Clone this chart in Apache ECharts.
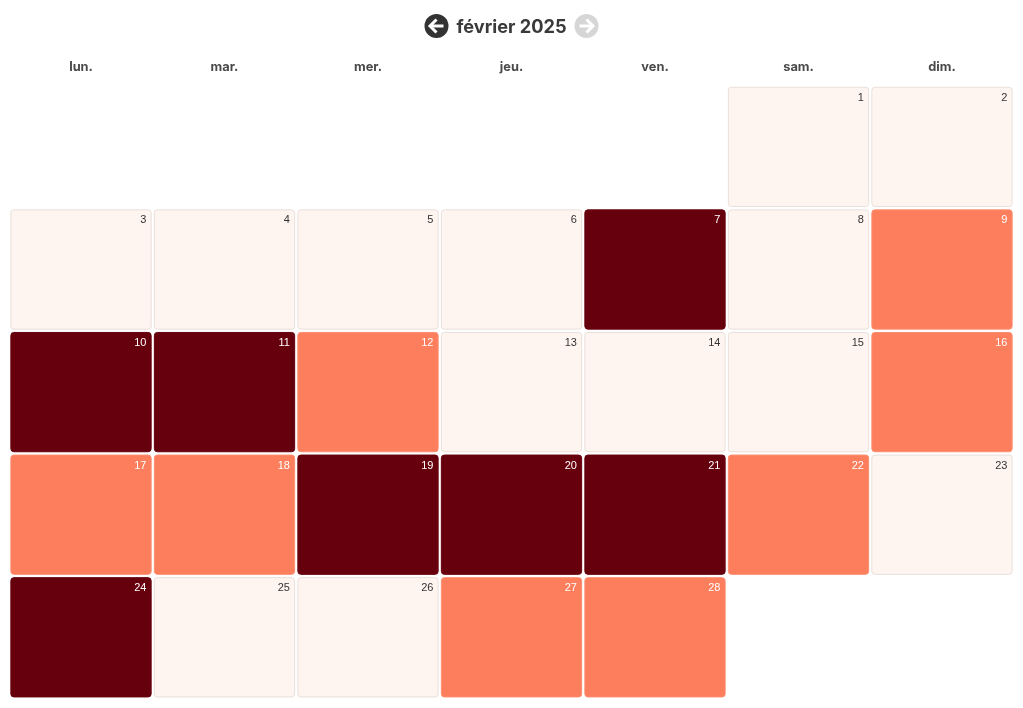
<!DOCTYPE html>
<html><head><meta charset="utf-8">
<style>html,body{margin:0;padding:0;background:#fff}#c{width:1023px;height:708px}</style>
<script src="https://cdn.jsdelivr.net/npm/echarts@6/dist/echarts.min.js"></script>
</head><body><div id="c"></div>
<script>
const monthTitle = "février 2025";
const weekdays = ["lun.","mar.","mer.","jeu.","ven.","sam.","dim."];
const weeks = ["S1","S2","S3","S4","S5"];
const firstColumn = 5;
// Intensity per day of the month, 1 to 28 (0 light, 1 orange, 2 dark)
const dayLevels = [0,0,0,0,0,0,2,0,1,2,2,1,0,0,0,1,1,1,2,2,2,1,0,2,0,0,1,1];
const levelColors = ["#fff5f0","#fd7e5c","#67000d"];
const levelBorders = ["#e9dfda","#fd8e70","#67000d"];
const levelText = ["#333333","#ffffff","#ffffff"];

const cells = dayLevels.map((lvl,i)=>{
  const p = i + firstColumn;
  return [p%7, Math.floor(p/7), i+1, lvl];
});
const chart = echarts.init(document.getElementById('c'),null,{renderer:'canvas'});
const FONT = 'Inter, "Noto Sans", sans-serif';
chart.setOption({
  animation:false,
  title:{text:monthTitle,left:506.5,top:12,textAlign:'center',
    textStyle:{fontFamily:FONT,fontSize:18.2,fontWeight:700,color:'#3a3a3a',lineHeight:22}},
  grid:{left:9.25,right:9.25,top:85.6,bottom:9.4},
  xAxis:{type:'category',position:'top',data:weekdays,axisLine:{show:false},axisTick:{show:false},
    splitLine:{show:false},
    axisLabel:{margin:18,fontFamily:FONT,fontSize:12.8,fontWeight:700,color:'#4a4a4a',verticalAlign:'middle'}},
  yAxis:{type:'category',inverse:true,data:weeks,axisLine:{show:false},axisTick:{show:false},axisLabel:{show:false},splitLine:{show:false}},
  series:[{type:'custom',coordinateSystem:'cartesian2d',data:cells,encode:{x:0,y:1},
    renderItem(params,api){
      const c = api.coord([api.value(0),api.value(1)]);
      const s = api.size([1,1]);
      const lvl = api.value(3);
      const w = s[0]-2.2, h = s[1]-2.3;
      const x = c[0]-w/2, y = c[1]-h/2;
      return {type:'group',children:[
        {type:'rect',shape:{x:x+.5,y:y+.5,width:w-1,height:h-1,r:3},
          style:{fill:levelColors[lvl],stroke:levelBorders[lvl],lineWidth:1}},
        {type:'text',x:x+w-5.25,y:y+11,style:{text:String(api.value(2)),align:'right',verticalAlign:'middle',
          fontFamily:'"Liberation Sans", Arial, sans-serif',fontSize:11,fill:levelText[lvl]}}
      ]};
    }}],
  graphic:[
    {type:'group',left:424.5,top:14,children:[
      {type:'circle',shape:{cx:12,cy:12,r:12},style:{fill:'#333333'}},
      {type:'polyline',shape:{points:[[12,5.5],[5.5,12],[12,18.5]]},style:{stroke:'#fff',lineWidth:3,fill:null}},
      {type:'line',shape:{x1:6,y1:12,x2:19,y2:12},style:{stroke:'#fff',lineWidth:3}}
    ]},
    {type:'group',left:574.5,top:14,children:[
      {type:'circle',shape:{cx:12,cy:12,r:12},style:{fill:'#d6d6d6'}},
      {type:'polyline',shape:{points:[[12,5.5],[18.5,12],[12,18.5]]},style:{stroke:'#fff',lineWidth:3,fill:null}},
      {type:'line',shape:{x1:5,y1:12,x2:18,y2:12},style:{stroke:'#fff',lineWidth:3}}
    ]}
  ]
});
</script></body></html>
